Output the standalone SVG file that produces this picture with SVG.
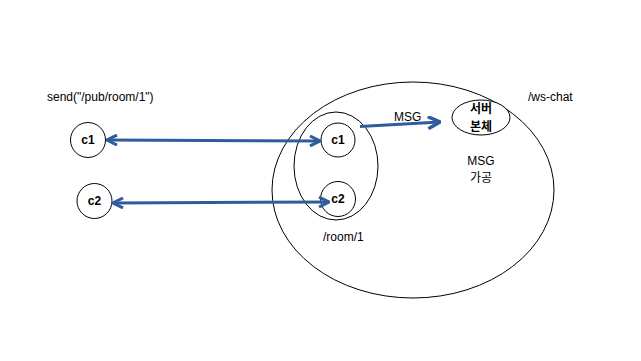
<svg xmlns="http://www.w3.org/2000/svg" width="641" height="361" viewBox="0 0 641 361">
<style>
.o{fill:#fff;stroke:#000;stroke-width:1}
.t{font-family:"Liberation Sans","Noto Sans CJK KR",sans-serif;font-size:12px;fill:#000}
.b{font-weight:bold;font-size:12px}
.k{font-family:"Noto Sans CJK KR",sans-serif;font-size:12px}
.c{fill:none;stroke:#2f5d9b;stroke-width:3}
</style>
<defs>
<marker id="ah" markerUnits="userSpaceOnUse" viewBox="0 0 12 12" refX="11" refY="6" markerWidth="12" markerHeight="12" orient="auto-start-reverse">
<path d="M1,1 L11,6 L1,11" fill="none" stroke="#2f5d9b" stroke-width="3"/>
</marker>
<marker id="ah2" markerUnits="userSpaceOnUse" viewBox="0 0 14 14" refX="13" refY="7" markerWidth="14" markerHeight="14" orient="auto">
<path d="M1,1 L13,7 L1,13" fill="none" stroke="#2f5d9b" stroke-width="3.5"/>
</marker>
</defs>
<rect width="641" height="361" fill="#fff"/>
<g id="ws-chat">
<ellipse class="o" cx="413" cy="190" rx="141" ry="108" fill="none"/>
<text class="t" x="528" y="101">/ws-chat</text>
</g>
<g id="room1">
<ellipse class="o" cx="336" cy="166" rx="42" ry="54"/>
<text class="t" x="323" y="241">/room/1</text>
</g>
<g id="room-c1">
<circle class="o" cx="338" cy="140" r="17"/>
<text class="t b" x="338" y="144" text-anchor="middle">c1</text>
</g>
<g id="room-c2">
<circle class="o" cx="338" cy="199" r="17.5"/>
<text class="t b" x="338" y="203" text-anchor="middle">c2</text>
</g>
<g id="server">
<ellipse class="o" cx="481" cy="117.5" rx="29" ry="17.5"/>
<text class="t b k" x="481" y="113" text-anchor="middle">서버</text>
<text class="t b k" x="481" y="130.5" text-anchor="middle">본체</text>
</g>
<g id="c1">
<circle class="o" cx="88" cy="140" r="17.5"/>
<text class="t b" x="88" y="144" text-anchor="middle">c1</text>
</g>
<g id="c2">
<circle class="o" cx="94.5" cy="201" r="17.5"/>
<text class="t b" x="94.5" y="205" text-anchor="middle">c2</text>
</g>
<g id="labels">
<text class="t" x="47" y="101">send("/pub/room/1")</text>
<text class="t" x="481" y="165" text-anchor="middle">MSG</text>
<text class="t k" x="481" y="182" text-anchor="middle">가공</text>
</g>
<g id="connectors">
<line class="c" x1="107" y1="140" x2="320" y2="141" marker-start="url(#ah)" marker-end="url(#ah)"/>
<line class="c" x1="113" y1="203" x2="329" y2="202" marker-start="url(#ah)" marker-end="url(#ah)"/>
<line class="c" x1="360" y1="126.5" x2="440" y2="122" stroke-width="3.5" marker-end="url(#ah2)"/>
<text class="t" x="394" y="121">MSG</text>
</g>
</svg>
